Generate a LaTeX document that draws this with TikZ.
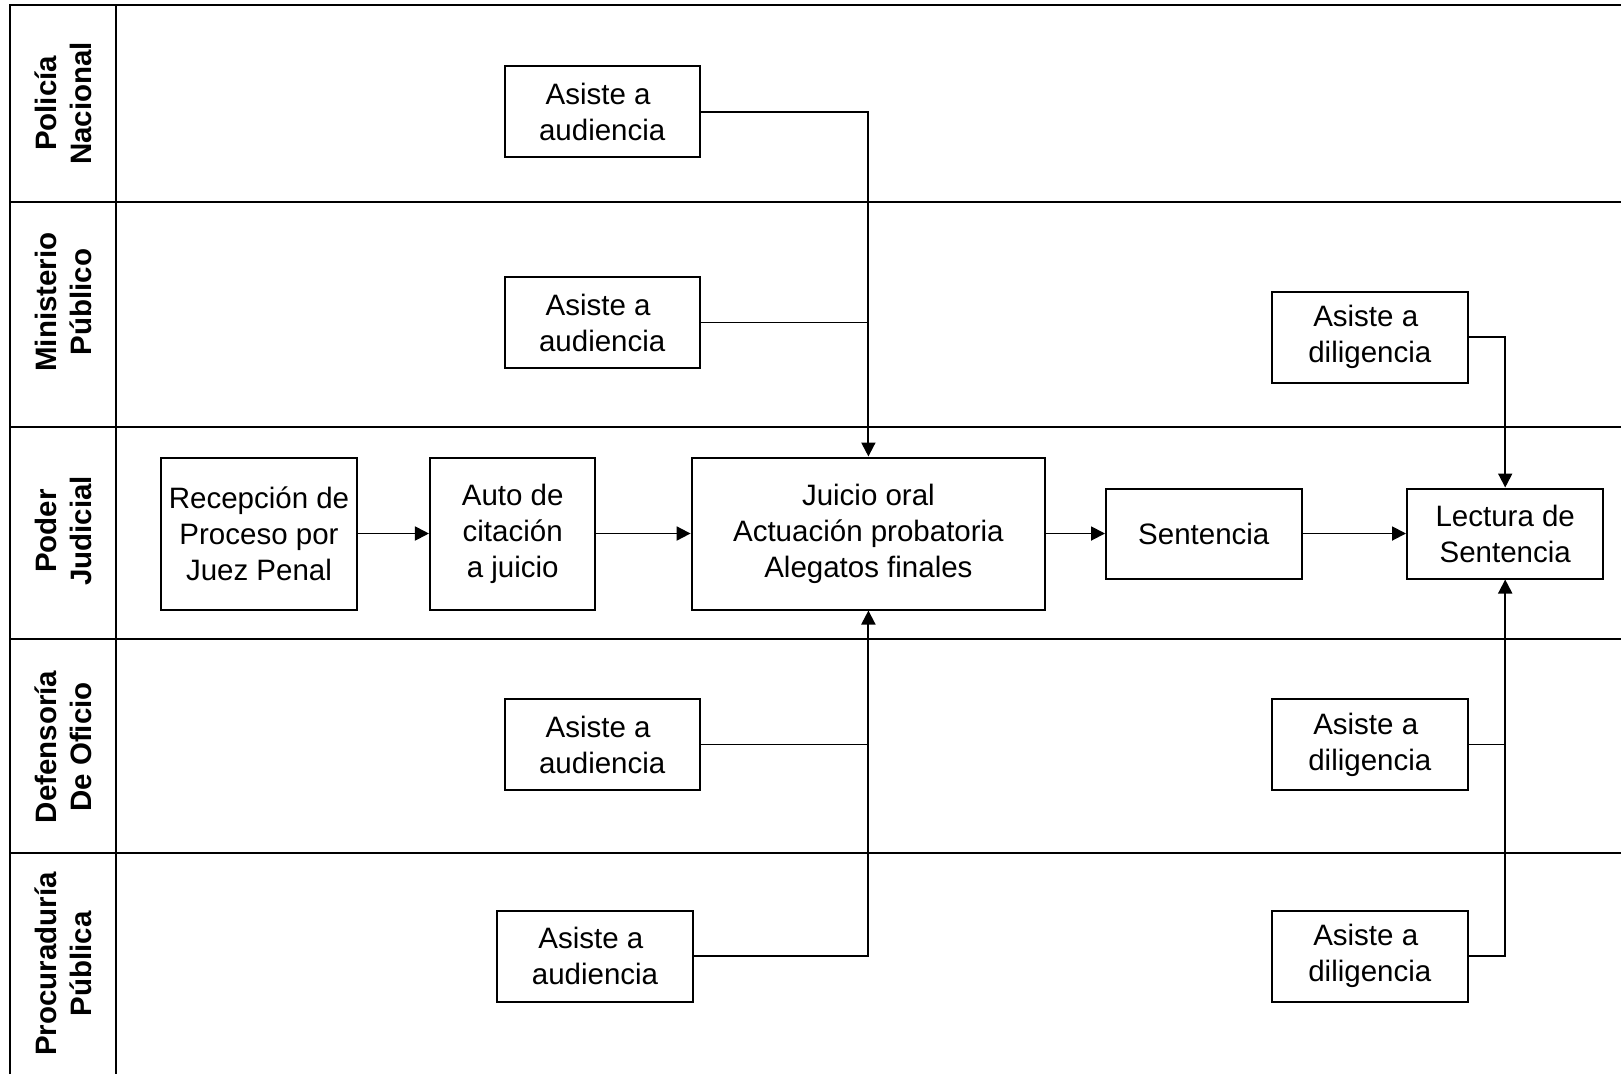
\documentclass[tikz,border=0pt]{standalone}
\usepackage{fontspec}
\setmainfont{Liberation Sans}
\usetikzlibrary{arrows.meta}

% first line of the attendance boxes carries a trailing word space
\newcommand{\asistea}{Asiste a\kern8.2pt}

\begin{document}
\begin{tikzpicture}[x=1pt,y=-1pt,
  frame/.style={line width=2pt,black},
  box/.style={draw,line width=2pt,inner sep=0pt,align=center,
    font=\fontsize{29.5}{36}\selectfont},
  lanelabel/.style={rotate=90,align=center,inner sep=0pt,
    font=\fontsize{29.5}{35}\selectfont\bfseries},
  link/.style={line width=1.9pt},
  arr/.style={link,-{Triangle[length=14pt,width=14pt]}}]

  % canvas
  \useasboundingbox (0,0) rectangle (1621,1074);

  % swimlane frame
  \draw[frame] (10.3,1074) -- (10.3,5.2) -- (1621,5.2);
  \draw[frame] (115.8,5.2) -- (115.8,1074);
  \foreach \yy in {201.6,427,638.9,852.9}
    \draw[frame] (10.3,\yy) -- (1621,\yy);

  % lane titles
  \node[lanelabel] (lpol) at (63,103.4) {Policía\\Nacional};
  \node[lanelabel] (lmin) at (63,302) {Ministerio\\Público};
  \node[lanelabel] (lpod) at (63,531) {Poder\\Judicial};
  \node[lanelabel] (ldef) at (63,747) {Defensoría\\De Oficio};
  \node[lanelabel] (lpro) at (63,964) {Procuraduría\\Pública};

  % Poder Judicial main flow
  \node[box,minimum width=195.4pt,minimum height=152pt] (rec) at (259,533.5)
    {Recepción de\\Proceso por\\Juez Penal};
  \node[box,minimum width=165.5pt,minimum height=152pt] (auto) at (512.7,533.5)
    {Auto de\\citación\\a juicio};
  \node[box,minimum width=353.6pt,minimum height=152pt] (jui) at (868.4,533.5)
    {Juicio oral\\Actuación probatoria\\Alegatos finales};
  \node[box,minimum width=195.6pt,minimum height=90pt] (sen) at (1203.8,533.5)
    {Sentencia};
  \node[box,minimum width=196.4pt,minimum height=90pt] (lec) at (1505.2,533.5)
    {Lectura de\\Sentencia};

  % supporting activities
  \node[box,minimum width=195.4pt,minimum height=91pt] (pol) at (602.2,111.6)
    {\asistea\\audiencia};
  \node[box,minimum width=195.4pt,minimum height=91pt] (mpa) at (602.2,322.5)
    {\asistea\\audiencia};
  \node[box,minimum width=196.4pt,minimum height=91pt] (mpd) at (1369.8,337)
    {\asistea\\diligencia};
  \node[box,minimum width=195.4pt,minimum height=91pt] (dfa) at (602.2,744.5)
    {\asistea\\audiencia};
  \node[box,minimum width=196.4pt,minimum height=91pt] (dfd) at (1369.8,744.5)
    {\asistea\\diligencia};
  \node[box,minimum width=195.4pt,minimum height=91pt] (pra) at (595,956.2)
    {\asistea\\audiencia};
  \node[box,minimum width=196.4pt,minimum height=91pt] (prd) at (1369.8,956.2)
    {\asistea\\diligencia};

  % main sequence
  \draw[arr] (rec) -- (auto);
  \draw[arr] (auto) -- (jui);
  \draw[arr] (jui) -- (sen);
  \draw[arr] (sen) -- (lec);

  % attendance at the trial
  \draw[arr] (pol.east) -| (jui.north);
  \draw[link] (mpa.east) -- (mpa.east -| jui.north);
  \draw[arr] (pra.east) -| (jui.south);
  \draw[link] (dfa.east) -- (dfa.east -| jui.south);

  % attendance at the reading of the sentence
  \draw[arr] (mpd.east) -| (lec.north);
  \draw[arr] (prd.east) -| (lec.south);
  \draw[link] (dfd.east) -- (dfd.east -| lec.south);
\end{tikzpicture}
\end{document}
